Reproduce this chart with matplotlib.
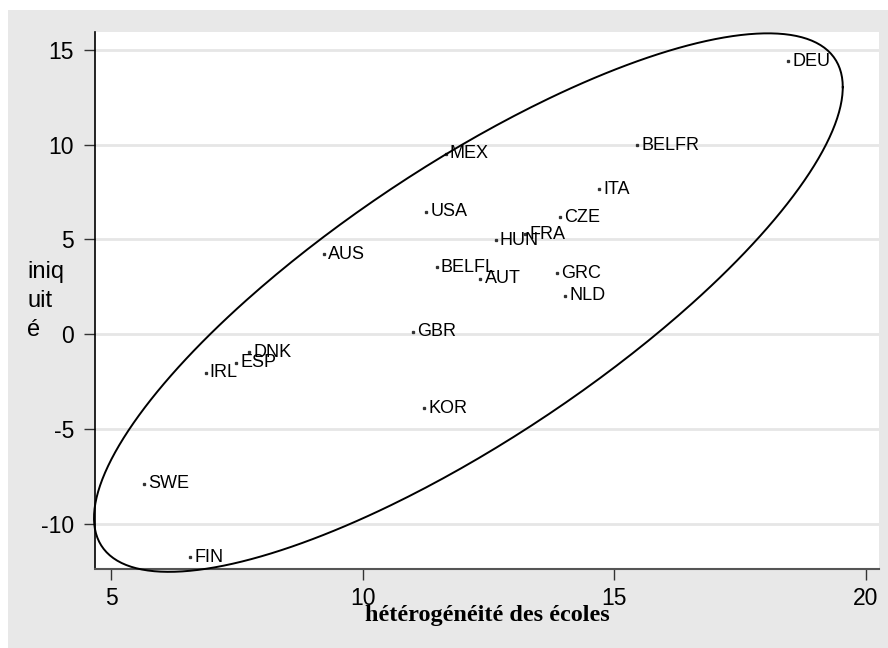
import numpy as np
import matplotlib
matplotlib.use('Agg')
import matplotlib.pyplot as plt
from matplotlib.patches import Rectangle

plt.rc('font', family='Liberation Sans')

# données
pays = ['DEU', 'BELFR', 'MEX', 'ITA', 'CZE', 'USA', 'HUN', 'FRA', 'AUS', 'BELFL',
        'AUT', 'GRC', 'NLD', 'GBR', 'DNK', 'ESP', 'IRL', 'KOR', 'SWE', 'FIN']
heterogeneite = [18.46, 15.46, 11.65, 14.69, 13.92, 11.26, 12.64, 13.23, 9.23, 11.47,
                 12.34, 13.86, 14.02, 10.99, 7.75, 7.49, 6.88, 11.22, 5.66, 6.57]
iniquite = [14.38, 9.95, 9.52, 7.64, 6.18, 6.46, 4.96, 5.26, 4.21, 3.54,
            2.92, 3.22, 2.03, 0.14, -0.95, -1.49, -2.02, -3.91, -7.87, -11.74]

# ellipse tracée à la main : centre, demi-étendues en x / y, corrélation
ell_centre = (12.1, 1.67)
ell_sx = 7.44
ell_sy = 14.19
ell_r = 0.80

fig = plt.figure(figsize=(8.88, 6.48), dpi=100, facecolor='white')
# fond gris autour du graphique
fig.patches.append(Rectangle((8 / 888, 0), 880 / 888, 638 / 648, transform=fig.transFigure,
                             facecolor='#e8e8e8', edgecolor='none', zorder=-10))

ax = fig.add_axes([95 / 888, 79 / 648, 784 / 888, 537 / 648])
ax.set_zorder(1)
ax.set_facecolor('white')

ax.plot(heterogeneite, iniquite, linestyle='none', marker='s', ms=1.4, color='#333333')
for nom, x, y in zip(pays, heterogeneite, iniquite):
    ax.annotate(nom, (x, y), xytext=(3, 0), textcoords='offset points',
                va='center', ha='left', fontsize=13, color='black')

t = np.linspace(0, 2 * np.pi, 400)
ex = ell_centre[0] + ell_sx * np.cos(t)
ey = ell_centre[1] + ell_sy * (ell_r * np.cos(t) + np.sqrt(1 - ell_r ** 2) * np.sin(t))
ax.plot(ex, ey, color='black', lw=1.4, clip_on=False, zorder=3)

ax.set_xlim(4.68, 20.26)
ax.set_ylim(-12.37, 15.93)
ax.set_xticks([5, 10, 15, 20])
ax.set_yticks([-10, -5, 0, 5, 10, 15])
ax.set_yticklabels(['-10', '-5', '0', '5', '10', '15'])
ax.yaxis.grid(True, color='#e6e6e6', lw=2)
ax.set_axisbelow(True)

for s in ['top', 'right']:
    ax.spines[s].set_visible(False)
ax.spines['left'].set_color('black')
ax.spines['left'].set_linewidth(1.2)
ax.spines['bottom'].set_color('#555555')
ax.spines['bottom'].set_linewidth(1.5)

ax.tick_params(axis='both', direction='out', length=8, width=1, labelsize=16.5,
               color='#333333', pad=7)
ax.tick_params(axis='x', pad=5)

fig.text(27 / 888, 1 - 301 / 648, 'iniq\nuit\né', fontsize=17, ha='left', va='center',
         linespacing=1.4)
fig.text(487 / 888, 1 - 616 / 648, 'hétérogénéité des écoles', fontsize=17.5,
         family='Liberation Serif', weight='bold', ha='center', va='center')

fig.savefig('out.png', dpi=100, facecolor='white')
